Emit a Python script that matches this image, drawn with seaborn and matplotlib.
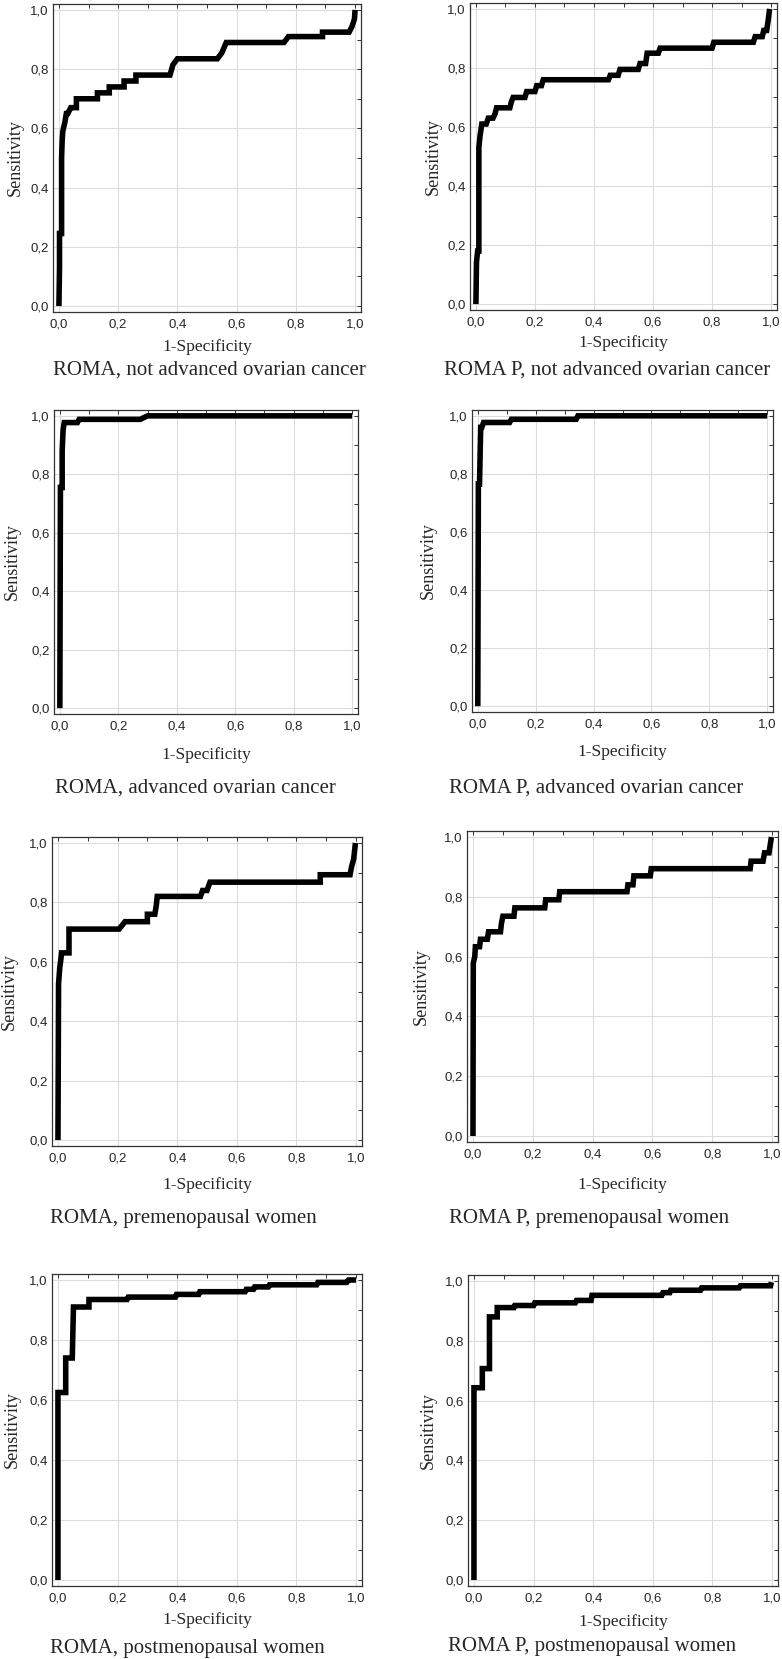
import matplotlib
matplotlib.use("Agg")
import matplotlib.pyplot as plt
import matplotlib.ticker as mticker
import seaborn as sns

# ROC curves (1-Specificity, Sensitivity)
fpr_roma_nadv = [0, 0.002, 0.002, 0.009, 0.009, 0.011, 0.013, 0.020, 0.025, 0.030, 0.040, 0.045, 0.059, 0.059,
                 0.13, 0.13, 0.17, 0.17, 0.22, 0.22, 0.26, 0.26, 0.375, 0.385, 0.40, 0.535, 0.55, 0.565,
                 0.76, 0.775, 0.89, 0.89, 0.98, 0.99, 0.998, 1.0]
tpr_roma_nadv = [0, 0.13, 0.245, 0.245, 0.50, 0.56, 0.59, 0.62, 0.65, 0.65, 0.67, 0.67, 0.67, 0.70,
                 0.70, 0.72, 0.72, 0.74, 0.74, 0.76, 0.76, 0.78, 0.78, 0.815, 0.835, 0.835, 0.855, 0.89,
                 0.89, 0.91, 0.91, 0.925, 0.925, 0.945, 0.97, 1.0]

fpr_romap_nadv = [0, 0.002, 0.006, 0.010, 0.010, 0.014, 0.020, 0.035, 0.042, 0.058, 0.065, 0.070, 0.115, 0.120,
                  0.126, 0.166, 0.172, 0.20, 0.206, 0.222, 0.228, 0.449, 0.455, 0.482, 0.488, 0.55, 0.556,
                  0.575, 0.580, 0.618, 0.624, 0.80, 0.806, 0.94, 0.946, 0.97, 0.975, 0.985, 0.99, 0.995]
tpr_romap_nadv = [0, 0.143, 0.18, 0.18, 0.53, 0.57, 0.61, 0.61, 0.63, 0.63, 0.645, 0.665, 0.665, 0.685,
                  0.70, 0.70, 0.72, 0.72, 0.74, 0.74, 0.76, 0.76, 0.775, 0.775, 0.795, 0.795, 0.815,
                  0.815, 0.85, 0.85, 0.867, 0.867, 0.887, 0.887, 0.906, 0.906, 0.927, 0.927, 0.96, 1.0]

fpr_roma_adv = [0, 0.002, 0.008, 0.008, 0.011, 0.015, 0.060, 0.066, 0.275, 0.30, 1.0]
tpr_roma_adv = [0, 0.755, 0.755, 0.88, 0.95, 0.977, 0.977, 0.988, 0.988, 1.0, 1.0]

fpr_romap_adv = [0, 0.002, 0.006, 0.008, 0.010, 0.014, 0.020, 0.11, 0.116, 0.34, 0.346, 1.0]
tpr_romap_adv = [0, 0.765, 0.765, 0.865, 0.96, 0.96, 0.977, 0.977, 0.988, 0.988, 1.0, 1.0]

fpr_roma_pre = [0, 0.002, 0.002, 0.006, 0.010, 0.012, 0.020, 0.035, 0.037, 0.037, 0.205, 0.225, 0.30, 0.30,
                0.325, 0.330, 0.333, 0.478, 0.485, 0.50, 0.51, 0.88, 0.88, 0.98, 0.985, 0.992, 0.998]
tpr_roma_pre = [0, 0.526, 0.526, 0.58, 0.61, 0.63, 0.63, 0.63, 0.63, 0.71, 0.71, 0.735, 0.735, 0.76,
                0.76, 0.79, 0.82, 0.82, 0.84, 0.84, 0.868, 0.868, 0.893, 0.893, 0.92, 0.945, 1.0]

fpr_romap_pre = [0, 0.001, 0.006, 0.008, 0.022, 0.025, 0.048, 0.052, 0.092, 0.095, 0.10, 0.137, 0.140,
                 0.24, 0.243, 0.287, 0.290, 0.515, 0.518, 0.535, 0.538, 0.593, 0.596, 0.927, 0.930, 0.97,
                 0.975, 0.99, 0.998]
tpr_romap_pre = [0, 0.578, 0.60, 0.633, 0.633, 0.658, 0.658, 0.683, 0.683, 0.71, 0.735, 0.735, 0.763,
                 0.763, 0.79, 0.79, 0.817, 0.817, 0.84, 0.84, 0.87, 0.87, 0.894, 0.894, 0.919, 0.919,
                 0.947, 0.947, 1.0]

fpr_roma_post = [0, 0, 0.026, 0.026, 0.048, 0.052, 0.104, 0.104, 0.232, 0.236, 0.394, 0.398, 0.472,
                 0.476, 0.628, 0.632, 0.656, 0.660, 0.706, 0.710, 0.868, 0.872, 0.969, 0.975, 1.0]
tpr_roma_post = [0, 0.625, 0.625, 0.74, 0.74, 0.91, 0.91, 0.935, 0.935, 0.943, 0.943, 0.952, 0.952,
                 0.961, 0.961, 0.969, 0.969, 0.977, 0.977, 0.984, 0.984, 0.992, 0.992, 1.0, 1.0]

fpr_romap_post = [0, 0, 0.028, 0.028, 0.052, 0.052, 0.078, 0.078, 0.134, 0.137, 0.20, 0.204, 0.34,
                  0.344, 0.393, 0.396, 0.63, 0.634, 0.657, 0.660, 0.76, 0.764, 0.89, 0.894, 0.995, 0.998]
tpr_romap_post = [0, 0.643, 0.643, 0.707, 0.707, 0.88, 0.88, 0.911, 0.911, 0.918, 0.918, 0.927, 0.927,
                  0.935, 0.935, 0.952, 0.952, 0.961, 0.961, 0.969, 0.969, 0.977, 0.977, 0.984, 0.984, 0.996]

captions = ["ROMA, not advanced ovarian cancer", "ROMA P, not advanced ovarian cancer",
            "ROMA, advanced ovarian cancer", "ROMA P, advanced ovarian cancer",
            "ROMA, premenopausal women", "ROMA P, premenopausal women",
            "ROMA, postmenopausal women", "ROMA P, postmenopausal women"]
curves = [(fpr_roma_nadv, tpr_roma_nadv), (fpr_romap_nadv, tpr_romap_nadv),
          (fpr_roma_adv, tpr_roma_adv), (fpr_romap_adv, tpr_romap_adv),
          (fpr_roma_pre, tpr_roma_pre), (fpr_romap_pre, tpr_romap_pre),
          (fpr_roma_post, tpr_roma_post), (fpr_romap_post, tpr_romap_post)]

sns.set_style("white")
plt.rcParams['font.family'] = ['Liberation Serif', 'DejaVu Serif']

W, H = 782, 1659
fig = plt.figure(figsize=(W / 100, H / 100), dpi=100)

# axes boxes in pixels: left, right, top, bottom ; ylabel x, xlabel y, caption x, caption y
boxes = [
    (53, 361, 4, 312, 15, 347, 53, 370),
    (470, 777, 3, 310, 433, 343, 444, 370),
    (54, 358, 410, 714, 12, 755, 55, 788),
    (472, 773, 410, 712, 428, 752, 449, 788),
    (52, 362, 837, 1146, 9, 1185, 50, 1218),
    (467, 778, 831, 1142, 421, 1185, 449, 1218),
    (52, 362, 1274, 1586, 12, 1620, 50, 1648),
    (468, 778, 1275, 1586, 428, 1622, 448, 1647),
]

fmt = mticker.FuncFormatter(lambda v, p: f"{v:.1f}".replace(".", ","))

for (fx, ty), cap, (l, r, t, b, ylx, xly, cx, cy) in zip(curves, captions, boxes):
    ax = fig.add_axes([l / W, 1 - b / H, (r - l) / W, (b - t) / H])
    sns.lineplot(x=fx, y=ty, sort=False, estimator=None, ax=ax, color='black',
                 linewidth=4.0, solid_capstyle='butt', solid_joinstyle='miter')
    ax.set_xlim(-0.02, 1.02)
    ax.set_ylim(-0.02, 1.02)
    ax.xaxis.set_major_locator(mticker.MultipleLocator(0.2))
    ax.yaxis.set_major_locator(mticker.MultipleLocator(0.2))
    ax.xaxis.set_minor_locator(mticker.MultipleLocator(0.1))
    ax.yaxis.set_minor_locator(mticker.MultipleLocator(0.1))
    ax.xaxis.set_major_formatter(fmt)
    ax.yaxis.set_major_formatter(fmt)
    ax.grid(True, which='major', color='#dcdcdc', linewidth=0.8)
    ax.tick_params(which='both', direction='in', top=True, right=True, length=3,
                   width=0.7, color='#333333')
    ax.tick_params(axis='x', pad=5, labelsize=9.5)
    ax.tick_params(axis='y', pad=3, labelsize=9.5)
    for lab in ax.get_xticklabels() + ax.get_yticklabels():
        lab.set_family(['Liberation Sans', 'DejaVu Sans'])
    for sp in ax.spines.values():
        sp.set_color('#333333')
        sp.set_linewidth(0.9)
    ax.set_xlabel("1-Specificity", fontsize=12.5)
    ax.set_ylabel("Sensitivity", fontsize=13)
    ax.xaxis.label.set_va('center')
    ax.yaxis.label.set_va('center')
    ax.xaxis.set_label_coords(0.5, (b - xly) / (b - t))
    ax.yaxis.set_label_coords((ylx - l) / (r - l), 0.5)
    fig.text(cx / W, 1 - cy / H, cap, fontsize=15, ha='left', va='center')

fig.savefig("out.png", dpi=100)
